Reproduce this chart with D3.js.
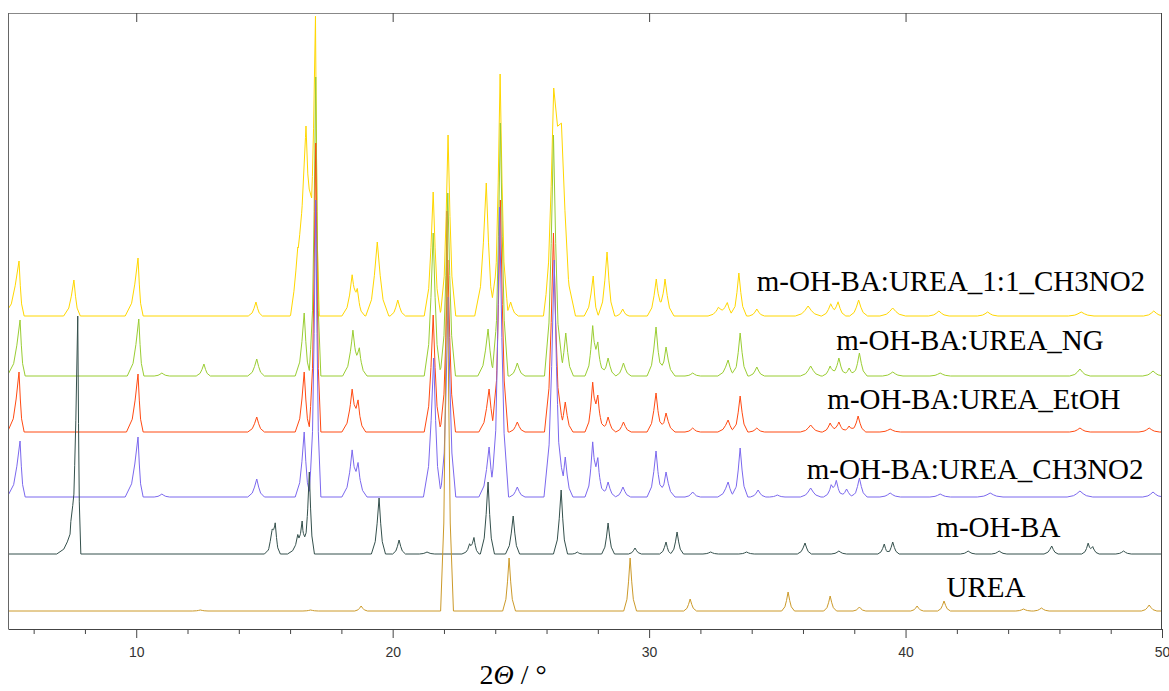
<!DOCTYPE html>
<html>
<head>
<meta charset="utf-8">
<script src="https://cdn.jsdelivr.net/npm/d3@7"></script>
<style>
  html, body { margin: 0; padding: 0; background: #fff; }
  svg { display: block; }
</style>
</head>
<body>
<svg id="chart" width="1169" height="691"></svg>
<script>
// ---- Data (2θ in degrees, intensity in arbitrary units) ----
// Each peak: [2θ position, height above baseline, left half-width at base, right half-width at base]
const seriesNames = ["m-OH-BA:UREA_1:1_CH3NO2", "m-OH-BA:UREA_NG", "m-OH-BA:UREA_EtOH",
                     "m-OH-BA:UREA_CH3NO2", "m-OH-BA", "UREA"];
const seriesColors = ["#ffd700", "#9acd32", "#ff4a12", "#7b68ee", "#34504c", "#cc9a2a"];
const seriesOffsets = [313, 253, 197, 132, 75, 18];

const peaks_1to1_CH3NO2 = [
  [5.43, 55, 0.6, 0.2], [7.57, 36, 0.4, 0.25], [10.07, 58, 0.5, 0.2], [14.67, 14, 0.3, 0.25],
  [16.3, 30, 0.3, 0.3], [16.62, 190, 0.6, 0.5], [16.99, 278, 0.3, 0.15],
  [18.42, 38, 0.4, 0.3], [18.62, 22, 0.3, 0.3], [19.4, 74, 0.45, 0.45], [20.2, 16, 0.3, 0.3],
  [21.58, 124, 0.35, 0.3], [22.16, 181, 0.3, 0.3], [23.65, 133, 0.45, 0.35], [24.19, 242, 0.3, 0.3],
  [24.6, 14, 0.3, 0.3], [26.28, 195, 0.4, 0.6], [26.58, 150, 0.6, 0.55],
  [27.82, 40, 0.35, 0.2], [28.36, 64, 0.35, 0.3], [28.97, 7, 0.25, 0.25],
  [30.28, 37, 0.35, 0.3], [30.62, 37, 0.3, 0.35], [32.7, 8, 0.4, 0.4], [33.05, 13, 0.4, 0.3],
  [33.5, 43, 0.3, 0.3], [34.2, 7, 0.3, 0.3], [36.2, 10, 0.5, 0.5], [37.08, 12, 0.35, 0.3],
  [37.37, 14, 0.3, 0.3], [38.17, 16, 0.35, 0.35], [39.5, 8, 0.5, 0.5], [41.3, 5, 0.4, 0.4],
  [43.2, 4, 0.4, 0.4], [46.85, 4, 0.5, 0.5], [49.68, 5, 0.4, 0.4]
];
const peaks_NG = [
  [5.47, 56, 0.5, 0.2], [10.1, 57, 0.45, 0.2], [11.0, 3, 0.3, 0.3], [12.64, 12, 0.3, 0.25],
  [14.7, 17, 0.35, 0.3], [16.55, 63, 0.35, 0.25], [17.0, 299, 0.25, 0.2],
  [18.45, 44, 0.4, 0.3], [18.7, 25, 0.3, 0.3], [21.58, 143, 0.35, 0.3], [22.15, 183, 0.3, 0.3],
  [23.72, 47, 0.4, 0.3], [24.2, 253, 0.3, 0.3], [24.86, 13, 0.3, 0.3], [26.27, 241, 0.35, 0.35],
  [26.75, 43, 0.3, 0.3], [27.8, 46, 0.3, 0.25], [28.0, 30, 0.3, 0.3], [28.4, 18, 0.3, 0.3],
  [29.0, 13, 0.3, 0.3], [30.27, 49, 0.35, 0.3], [30.66, 29, 0.3, 0.35], [31.7, 3, 0.3, 0.3],
  [33.08, 16, 0.4, 0.3], [33.55, 43, 0.3, 0.3], [34.2, 9, 0.3, 0.3], [36.3, 10, 0.4, 0.4],
  [37.06, 10, 0.3, 0.3], [37.4, 18, 0.3, 0.3], [37.8, 8, 0.3, 0.3], [38.2, 23, 0.3, 0.3],
  [39.5, 4, 0.4, 0.4], [41.35, 3, 0.4, 0.4], [46.8, 7, 0.4, 0.4], [49.65, 5, 0.4, 0.4]
];
const peaks_EtOH = [
  [5.43, 60, 0.45, 0.2], [10.07, 58, 0.45, 0.2], [14.7, 15, 0.35, 0.3], [16.55, 60, 0.35, 0.25],
  [17.0, 289, 0.25, 0.2], [18.42, 40, 0.4, 0.3], [18.65, 28, 0.3, 0.3], [21.58, 117, 0.35, 0.3],
  [22.15, 172, 0.3, 0.3], [23.76, 43, 0.4, 0.3], [24.2, 232, 0.3, 0.3], [24.86, 10, 0.3, 0.3],
  [26.27, 199, 0.35, 0.35], [26.73, 30, 0.3, 0.3], [27.8, 45, 0.3, 0.25], [28.0, 33, 0.3, 0.3],
  [28.4, 15, 0.3, 0.3], [29.0, 10, 0.3, 0.3], [30.27, 39, 0.35, 0.3], [30.66, 19, 0.3, 0.35],
  [31.7, 4, 0.3, 0.3], [33.08, 12, 0.4, 0.3], [33.55, 36, 0.3, 0.3], [34.2, 4, 0.3, 0.3],
  [36.3, 7, 0.4, 0.4], [37.06, 9, 0.3, 0.3], [37.4, 10, 0.3, 0.3], [37.8, 6, 0.3, 0.3],
  [38.15, 16, 0.3, 0.3], [39.4, 3, 0.4, 0.4], [46.8, 4, 0.4, 0.4], [49.5, 4, 0.4, 0.4]
];
const peaks_CH3NO2 = [
  [5.47, 56, 0.5, 0.2], [10.07, 60, 0.5, 0.2], [11.0, 3, 0.3, 0.3], [14.7, 18, 0.35, 0.3],
  [16.55, 65, 0.35, 0.25], [17.0, 297, 0.25, 0.2], [18.42, 44, 0.4, 0.3], [18.65, 30, 0.3, 0.35],
  [21.6, 139, 0.4, 0.3], [22.16, 200, 0.3, 0.3], [23.76, 50, 0.4, 0.3], [24.17, 290, 0.3, 0.35],
  [24.86, 10, 0.3, 0.3], [26.3, 237, 0.4, 0.35], [26.73, 40, 0.3, 0.3], [27.8, 50, 0.3, 0.25],
  [28.0, 35, 0.3, 0.3], [28.4, 15, 0.3, 0.3], [28.98, 10, 0.3, 0.3], [30.27, 46, 0.35, 0.3],
  [30.66, 25, 0.3, 0.35], [31.7, 5, 0.3, 0.3], [33.08, 15, 0.4, 0.3], [33.55, 49, 0.3, 0.3],
  [34.25, 7, 0.3, 0.3], [35.0, 2, 0.3, 0.3], [36.3, 9, 0.4, 0.4], [37.1, 11, 0.3, 0.3],
  [37.3, 15, 0.25, 0.3], [37.7, 8, 0.3, 0.3], [38.2, 19, 0.3, 0.3], [39.4, 4, 0.4, 0.4],
  [41.35, 3, 0.4, 0.4], [43.3, 4, 0.5, 0.5], [46.8, 6, 0.5, 0.5], [49.65, 5, 0.4, 0.4]
];
const peaks_mOHBA = [
  [7.45, 22, 0.55, 0.3], [7.72, 237, 0.3, 0.12], [15.3, 18, 0.3, 0.2], [15.42, 28, 0.25, 0.2],
  [16.3, 15, 0.4, 0.2], [16.47, 32, 0.25, 0.2], [16.75, 82, 0.25, 0.2], [19.47, 56, 0.3, 0.25],
  [20.25, 14, 0.25, 0.25], [21.34, 2, 0.3, 0.3], [23.0, 8, 0.3, 0.2], [23.17, 16, 0.25, 0.2],
  [23.72, 72, 0.3, 0.25], [24.7, 38, 0.3, 0.25], [26.57, 64, 0.3, 0.25], [27.2, 2, 0.2, 0.2],
  [28.4, 31, 0.25, 0.25], [29.45, 6, 0.25, 0.25], [30.66, 12, 0.25, 0.2], [31.09, 22, 0.25, 0.25],
  [32.4, 2, 0.3, 0.3], [33.8, 2, 0.3, 0.3], [36.08, 11, 0.3, 0.25], [37.4, 3, 0.3, 0.3],
  [39.17, 10, 0.25, 0.2], [39.5, 12, 0.25, 0.25], [42.44, 3, 0.3, 0.3], [43.65, 3, 0.3, 0.3],
  [45.7, 8, 0.3, 0.25], [47.12, 10, 0.25, 0.2], [47.3, 7, 0.25, 0.25], [48.5, 3, 0.3, 0.3]
];
const peaks_UREA = [
  [12.5, 1, 0.3, 0.3], [16.8, 1, 0.3, 0.3], [18.77, 5, 0.25, 0.25], [22.12, 400, 0.25, 0.25],
  [24.54, 53, 0.25, 0.25], [29.26, 53, 0.25, 0.25], [31.6, 12, 0.25, 0.25], [35.42, 19, 0.25, 0.25],
  [37.06, 15, 0.25, 0.25], [38.2, 4, 0.25, 0.25], [40.45, 5, 0.25, 0.25], [41.5, 10, 0.25, 0.25],
  [44.6, 2, 0.3, 0.3], [45.3, 3, 0.3, 0.3], [49.5, 6, 0.3, 0.3]
];
const seriesPeaks = [peaks_1to1_CH3NO2, peaks_NG, peaks_EtOH, peaks_CH3NO2, peaks_mOHBA, peaks_UREA];

// label placement (start in 2θ, baseline in intensity units)
const labelStart = [34.2, 37.3, 36.95, 36.15, 41.2, 41.6];
const labelBase  = [338, 279, 220, 150, 92, 32];

const majorTicks = [10, 20, 30, 40, 50];
const minorTicks = [6, 8, 12, 14, 16, 18, 22, 24, 26, 28, 32, 34, 36, 38, 42, 44, 46, 48];

// ---- Layout ----
const L = 8, R = 1162, T = 13, B = 629;
const svg = d3.select("#chart");
const x = d3.scaleLinear().domain([5, 50]).range([L, R]);
const y = d3.scaleLinear().domain([0, 616]).range([B, T]);

// peak profile shape (fraction of height at fraction of base half-width)
const shape = [[0, 1], [0.25, 0.55], [0.5, 0.22], [1, 0]];
function kernel(d, wl, wr) {
  const w = d < 0 ? wl : wr;
  const t = Math.abs(d) / w;
  if (t >= 1) return 0;
  for (let i = 1; i < shape.length; i++) {
    if (t <= shape[i][0]) {
      const [t0, v0] = shape[i - 1], [t1, v1] = shape[i];
      return v0 + (v1 - v0) * (t - t0) / (t1 - t0);
    }
  }
  return 0;
}
function profile(peaks, offset) {
  const xs = new Set([5, 50]);
  peaks.forEach(([c, h, wl, wr]) => {
    shape.forEach(([t]) => { xs.add(+(c - t * wl).toFixed(4)); xs.add(+(c + t * wr).toFixed(4)); });
  });
  return Array.from(xs).filter(v => v >= 5 && v <= 50).sort((a, b) => a - b)
    .map(v => [v, offset + d3.sum(peaks, ([c, h, wl, wr]) => h * kernel(v - c, wl, wr))]);
}

svg.append("defs").append("clipPath").attr("id", "plotclip")
  .append("rect").attr("x", L).attr("y", T).attr("width", R - L).attr("height", B - T);

const line = d3.line().x(d => x(d[0])).y(d => y(d[1]));
const g = svg.append("g").attr("clip-path", "url(#plotclip)");
seriesPeaks.forEach((pk, i) => {
  g.append("path")
    .datum(profile(pk, seriesOffsets[i]))
    .attr("d", line)
    .attr("fill", "none")
    .attr("stroke", seriesColors[i])
    .attr("stroke-width", 1)
    .attr("stroke-linejoin", "round");
});

// frame
svg.append("line").attr("x1", L).attr("x2", R).attr("y1", T + 0.5).attr("y2", T + 0.5).attr("stroke", "#888");
svg.append("line").attr("x1", L + 0.5).attr("x2", L + 0.5).attr("y1", T).attr("y2", B).attr("stroke", "#666");
svg.append("line").attr("x1", R - 0.5).attr("x2", R - 0.5).attr("y1", T).attr("y2", B).attr("stroke", "#444");

// bottom axis
const axisB = svg.append("g").attr("transform", `translate(0,${B})`)
  .call(d3.axisBottom(x).tickValues(majorTicks).tickSize(9).tickSizeOuter(0).tickFormat(d3.format("d")));
axisB.select(".domain").attr("stroke", "#444");
axisB.selectAll(".tick line").attr("stroke", "#444");
axisB.selectAll(".tick text").attr("fill", "#333").attr("font-size", 14)
  .attr("font-family", "'Liberation Sans', Arial, sans-serif").attr("dy", "1.15em");
const axisBm = svg.append("g").attr("transform", `translate(0,${B})`)
  .call(d3.axisBottom(x).tickValues(minorTicks).tickSize(5).tickFormat(""));
axisBm.select(".domain").remove();
axisBm.selectAll(".tick line").attr("stroke", "#444");

// top axis (inward major ticks)
const axisT = svg.append("g").attr("transform", `translate(0,${T})`)
  .call(d3.axisBottom(x).tickValues(majorTicks.slice(0, 4)).tickSize(9).tickFormat(""));
axisT.select(".domain").remove();
axisT.selectAll(".tick line").attr("stroke", "#444");

// series labels
seriesNames.forEach((name, i) => {
  svg.append("text")
    .attr("x", x(labelStart[i])).attr("y", y(labelBase[i]))
    .attr("font-family", "'Liberation Serif', 'Times New Roman', serif")
    .attr("font-size", 29).attr("fill", "#000")
    .text(name);
});

// axis title
const title = svg.append("text").attr("x", 513).attr("y", 684).attr("text-anchor", "middle")
  .attr("font-family", "'Liberation Serif', 'Times New Roman', serif").attr("font-size", 28).attr("fill", "#000");
title.append("tspan").text("2");
title.append("tspan").attr("font-style", "italic").text("Θ");
title.append("tspan").text(" / °");
</script>
</body>
</html>
